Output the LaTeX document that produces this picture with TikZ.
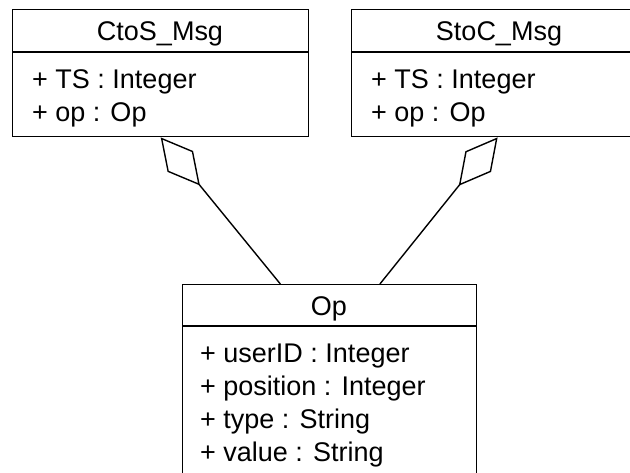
\documentclass[tikz,border=0pt]{standalone}
\usepackage{fontspec}
\setmainfont{Liberation Sans}
\usetikzlibrary{arrows.meta,calc}
\begin{document}
\begin{tikzpicture}[x=1pt,y=-1pt,
  umlbox/.style={draw,line width=1.4pt,rectangle,inner sep=0pt,anchor=north west},
  txt/.style={inner sep=0pt,font=\fontsize{27}{33}\selectfont},
  attr/.style={txt,anchor=base west},
  title/.style={txt,anchor=base},
  aggr/.style={line width=1.4pt,{Diamond[open,length=62pt,width=33pt,line width=1.4pt]}-}]
  \useasboundingbox (0,0) rectangle (630,472);
  \clip (0,0) rectangle (630,472);

  % class boxes
  \node[umlbox,minimum width=296pt,minimum height=127pt] (ctos) at (12,9) {};
  \node[umlbox,minimum width=296pt,minimum height=127pt] (stoc) at (351,9) {};
  \node[umlbox,minimum width=294pt,minimum height=220pt] (op) at (182,284) {};

  % compartment separators
  \draw[line width=1.4pt] ($(ctos.north west)+(0,43)$) -- ($(ctos.north east)+(0,43)$);
  \draw[line width=1.4pt] ($(stoc.north west)+(0,43)$) -- ($(stoc.north east)+(0,43)$);
  \draw[line width=1.4pt] ($(op.north west)+(0,42)$) -- ($(op.north east)+(0,42)$);

  % class names
  \node[title] (ctosname) at (160,40) {CtoS\_Msg};
  \node[title] (stocname) at (499,40) {StoC\_Msg};
  \node[title] (opname) at (329,315) {Op};

  % attributes
  \node[attr] (ctos1) at (32,88) {+ TS : Integer};
  \node[attr] (ctos2) at (32,121) {+ op : Op};
  \node[attr] (stoc1) at (371,88) {+ TS : Integer};
  \node[attr] (stoc2) at (371,121) {+ op : Op};
  \node[attr] (op1) at (200,362) {+ userID : Integer};
  \node[attr] (op2) at (200,395) {+ position : Integer};
  \node[attr] (op3) at (200,428) {+ type : String};
  \node[attr] (op4) at (200,461) {+ value : String};

  % aggregations
  \draw[aggr] ($(ctos.south west)!0.5!(ctos.south east)$) -- ($(op.north west)!0.333!(op.north east)$);
  \draw[aggr] ($(stoc.south west)!0.493!(stoc.south east)$) -- ($(op.north west)!0.67!(op.north east)$);
\end{tikzpicture}
\end{document}
